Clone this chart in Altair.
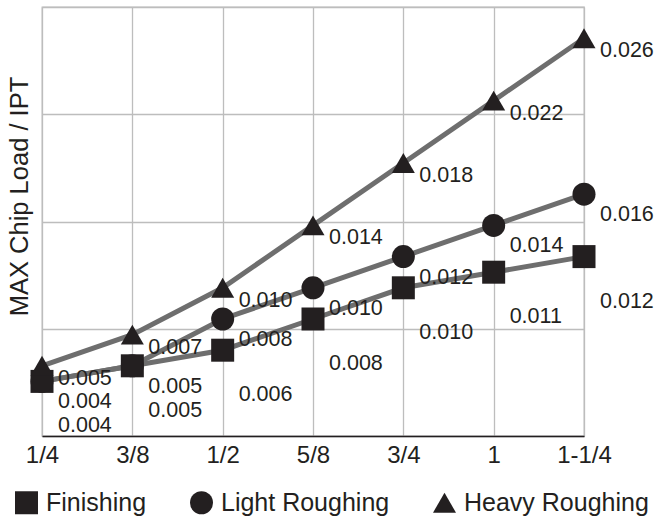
import altair as alt
import pandas as pd

# Router bit diameters (inches) along the x axis
sizes = ["1/4", "3/8", "1/2", "5/8", "3/4", "1", "1-1/4"]
series_names = ["Finishing", "Light Roughing", "Heavy Roughing"]

# Maximum chip load per tooth (IPT) for each cutting mode
finishing = [0.004, 0.005, 0.006, 0.008, 0.010, 0.011, 0.012]
light_roughing = [0.004, 0.005, 0.008, 0.010, 0.012, 0.014, 0.016]
heavy_roughing = [0.005, 0.007, 0.010, 0.014, 0.018, 0.022, 0.026]

rows = []
for name, vals in zip(series_names, [finishing, light_roughing, heavy_roughing]):
    for s, v in zip(sizes, vals):
        rows.append({"size": s, "series": name, "load": v, "label": f"{v:.3f}"})
df = pd.DataFrame(rows)

INK = "#231f20"
GRID = "#bdbdbd"
FONT = "Liberation Sans"

y_lo, y_hi = 0.0005, 0.028
grid_values = [y_lo + i * (y_hi - y_lo) / 4 for i in range(5)]

x = alt.X(
    "size:N",
    sort=sizes,
    scale=alt.Scale(type="point", padding=0),
    axis=alt.Axis(
        title=None,
        labelAngle=0,
        labelFontSize=24,
        labelColor=INK,
        labelPadding=7,
        ticks=False,
        domain=True,
        domainColor=INK,
        domainWidth=1.6,
        grid=True,
        gridColor=GRID,
        gridWidth=1.3,
    ),
)
y = alt.Y(
    "load:Q",
    scale=alt.Scale(domain=[y_lo, y_hi], nice=False, zero=False),
    axis=alt.Axis(
        values=grid_values,
        labels=False,
        ticks=False,
        domain=False,
        grid=True,
        gridColor=GRID,
        gridWidth=1.3,
        title="MAX Chip Load / IPT",
        titleFontSize=25.5,
        titleFontWeight="normal",
        titleColor=INK,
        titleX=-23,
        titleY=189,
        titleAngle=270,
        titleAlign="center",
        titleBaseline="middle",
    ),
)

base = alt.Chart(df)

lines = base.mark_line(color="#6e6e6e", strokeWidth=5).encode(
    x=x, y=y, detail="series:N", order=alt.Order("load:Q")
)

points = base.mark_point(filled=True, color=INK, opacity=1, strokeWidth=0).encode(
    x=x,
    y=y,
    shape=alt.Shape(
        "series:N",
        sort=series_names,
        scale=alt.Scale(domain=series_names, range=["square", "circle", "triangle-up"]),
        legend=alt.Legend(title=None),
    ),
    size=alt.Size(
        "series:N",
        sort=series_names,
        scale=alt.Scale(domain=series_names, range=[529, 529, 780]),
        legend=alt.Legend(title=None),
    ),
)


def value_labels(series, dy):
    # value text sits to the lower right of each marker; the lower series
    # gets a deeper offset so coinciding values stack instead of colliding
    return (
        base.transform_filter(alt.datum.series == series)
        .mark_text(align="left", baseline="alphabetic", dx=16, dy=dy, fontSize=21.5, color=INK)
        .encode(x=x, y=y, text="label:N")
    )


labels = [
    value_labels("Heavy Roughing", 19),
    value_labels("Light Roughing", 27),
    value_labels("Finishing", 51),
]

chart = (
    alt.layer(lines, points, *labels)
    .properties(
        width=542,
        height=429,
        autosize=alt.AutoSizeParams(type="none"),
        padding={"left": 42, "top": 7, "right": 74, "bottom": 84},
    )
    .configure(font=FONT)
    .configure_view(stroke=GRID, strokeWidth=1.3)
    .configure_legend(
        orient="none",
        legendX=-28,
        legendY=483,
        direction="horizontal",
        labelFontSize=25,
        labelColor=INK,
        labelOffset=7,
        labelLimit=0,
        columnPadding=42,
        symbolFillColor=INK,
        symbolStrokeWidth=0,
        symbolType="circle",
    )
)

chart.save("out.html", embed_options={"renderer": "svg", "actions": False})
